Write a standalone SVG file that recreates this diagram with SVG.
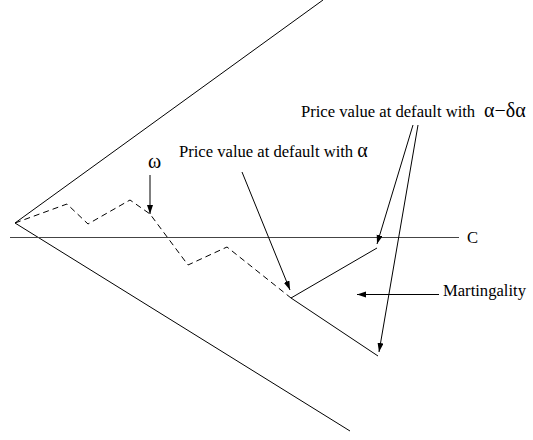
<svg xmlns="http://www.w3.org/2000/svg" width="533" height="440" viewBox="0 0 533 440">
<style>
.ln{stroke:#000;stroke-width:1;fill:none}
.ax{stroke:#444;stroke-width:1.2;fill:none}
.ds{stroke:#000;stroke-width:1;fill:none;stroke-dasharray:6 4}
.ar{stroke:#000;stroke-width:1;fill:none;marker-end:url(#ah)}
.t{font-family:"Liberation Serif","Times New Roman",serif;font-size:16.6px;fill:#000}
.g{font-size:20px}
</style>
<defs>
<marker id="ah" markerUnits="userSpaceOnUse" markerWidth="10" markerHeight="8" refX="9" refY="3" orient="auto">
<path d="M0,0 L9,3 L0,6 Z" fill="#000"/>
</marker>
</defs>
<rect width="533" height="440" fill="#fff"/>
<g id="cone">
<line class="ln" x1="15" y1="223" x2="323" y2="0"/>
<line class="ln" x1="15" y1="223" x2="350" y2="431"/>
</g>
<g id="level-c">
<line class="ax" x1="10" y1="237.5" x2="459" y2="237.5"/>
<text class="t" x="467" y="243">C</text>
</g>
<g id="path-omega">
<polyline class="ds" points="15,223 67,204 88,224 130,200 150,214 188,265 227,247 291,298"/>
</g>
<g id="martingality-wedge">
<line class="ln" x1="291" y1="298" x2="377" y2="248"/>
<line class="ln" x1="291" y1="298" x2="378" y2="356"/>
</g>
<g id="label-omega">
<text class="t g" x="148" y="168">ω</text>
</g>
<g id="label-alpha">
<text class="t" x="179" y="157">Price value at default with <tspan class="g">α</tspan></text>
</g>
<g id="label-alpha-delta">
<text class="t" x="301" y="117">Price value at default with<tspan class="g" x="484">α−δα</tspan></text>
</g>
<g id="label-martingality">
<text class="t" x="443" y="296">Martingality</text>
</g>
<g id="connectors">
<line class="ar" x1="150" y1="175" x2="150" y2="214"/>
<line class="ar" x1="242" y1="172" x2="290" y2="290"/>
<line class="ar" x1="413" y1="125" x2="377" y2="244"/>
<line class="ar" x1="418" y1="125" x2="379" y2="352"/>
<line class="ar" x1="439" y1="294.5" x2="357" y2="294.5"/>
</g>
</svg>
